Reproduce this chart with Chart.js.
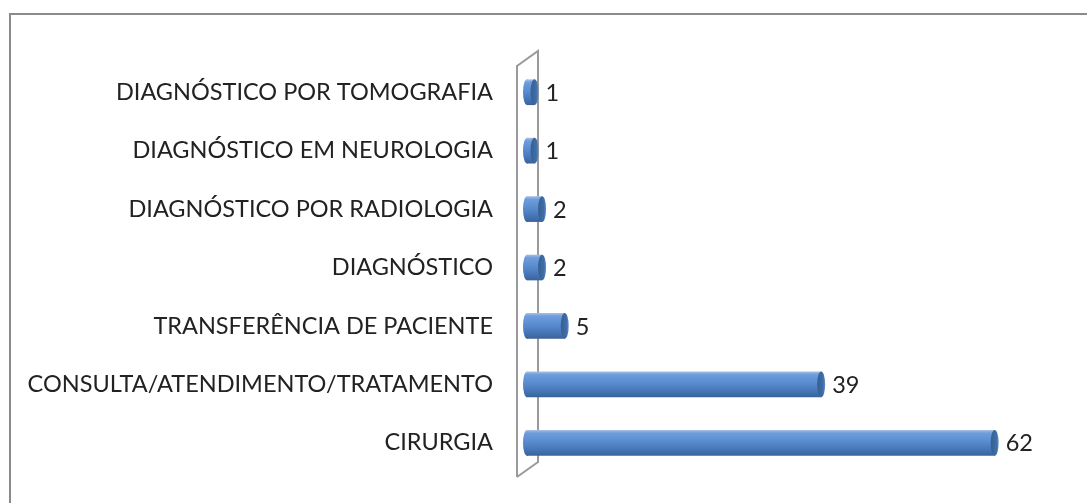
<!DOCTYPE html>
<html>
<head>
<meta charset="utf-8">
<script src="https://cdn.jsdelivr.net/npm/chart.js@4"></script>
<style>
  body { margin: 0; background: #fff; }
  #wrap { position: relative; width: 1087px; height: 503px; }
  #frame { position: absolute; left: 9px; top: 13px; right: -5px; bottom: -5px;
           border-top: 2px solid #8a8a8a; border-left: 2px solid #8a8a8a; }
  canvas { position: absolute; left: 0; top: 0; }
</style>
</head>
<body>
<div id="wrap">
  <div id="frame"></div>
  <canvas id="canvas1" width="1087" height="503"></canvas>
</div>
<script>
// categories top to bottom, as in the picture
const categories = [
  "DIAGNÓSTICO POR TOMOGRAFIA",
  "DIAGNÓSTICO EM NEUROLOGIA",
  "DIAGNÓSTICO POR RADIOLOGIA",
  "DIAGNÓSTICO",
  "TRANSFERÊNCIA DE PACIENTE",
  "CONSULTA/ATENDIMENTO/TRATAMENTO",
  "CIRURGIA"
];
const values = [1, 1, 2, 2, 5, 39, 62];
const axisMax = 70;

const FONT = "Lato, 'Open Sans', sans-serif";

function barGradient(ctx, bar) {
  const h = bar.height;
  const g = ctx.createLinearGradient(0, bar.y - h / 2, 0, bar.y + h / 2);
  g.addColorStop(0, "#a9c0e2");
  g.addColorStop(0.12, "#6e9ddd");
  g.addColorStop(0.5, "#5689cc");
  g.addColorStop(0.85, "#416fae");
  g.addColorStop(1, "#3a6298");
  return g;
}

// wall behind the bars, cylinder ends and value labels
const wallPlugin = {
  id: "wall",
  beforeDatasetsDraw(chart) {
    const ctx = chart.ctx;
    const area = chart.chartArea;
    const x0 = chart.scales.x.getPixelForValue(0);
    const fx = x0 - 10, bx = x0 + 11;
    ctx.save();
    ctx.strokeStyle = "#9a9a9a";
    ctx.lineWidth = 2;
    ctx.beginPath();
    ctx.moveTo(fx, area.bottom + 5);
    ctx.lineTo(fx, area.top + 3);
    ctx.lineTo(bx, area.top - 12);
    ctx.lineTo(bx, area.bottom - 10);
    ctx.lineTo(fx, area.bottom + 5);
    ctx.stroke();

    const meta = chart.getDatasetMeta(0);
    meta.data.forEach(bar => {
      const g = barGradient(ctx, bar);
      bar.options.backgroundColor = g;
      ctx.fillStyle = g;
      ctx.beginPath();
      ctx.ellipse(bar.base, bar.y, 4, bar.height / 2, 0, 0, Math.PI * 2);
      ctx.fill();
    });
    ctx.restore();
  },
  afterDatasetsDraw(chart) {
    const ctx = chart.ctx;
    const meta = chart.getDatasetMeta(0);
    meta.data.forEach((bar, i) => {
      const h = bar.height;
      const g = ctx.createLinearGradient(bar.x - 4, 0, bar.x + 4, 0);
      g.addColorStop(0, "#35608f");
      g.addColorStop(0.7, "#3f6da6");
      g.addColorStop(1, "#5d8cc8");
      ctx.save();
      ctx.fillStyle = g;
      ctx.beginPath();
      ctx.ellipse(bar.x, bar.y, 4, h / 2, 0, 0, Math.PI * 2);
      ctx.fill();
      ctx.fillStyle = "#222";
      ctx.font = "23.5px " + FONT;
      ctx.textAlign = "left";
      ctx.textBaseline = "middle";
      ctx.fillText(String(values[i]), bar.x + 11, bar.y + 1);
      ctx.restore();
    });
  }
};

window.onload = function () {
  let ctx1 = document.getElementById("canvas1").getContext("2d");
  new Chart(ctx1, {
    type: "bar",
    data: {
      labels: categories,
      datasets: [
        {
          data: values,
          // scriptable so each bar gets its own options object
          backgroundColor: (c) => "#5689cc",
          borderWidth: 0,
          barPercentage: 0.44,
          categoryPercentage: 1
        }
      ]
    },
    options: {
      indexAxis: "y",
      responsive: false,
      animation: false,
      layout: { padding: { left: 0, top: 63, right: 32, bottom: 31 } },
      plugins: {
        legend: { display: false },
        tooltip: { enabled: false }
      },
      scales: {
        x: { display: false, min: 0, max: axisMax },
        y: {
          grid: { display: false, drawTicks: true, tickLength: 20 },
          border: { display: false },
          ticks: {
            padding: 14,
            color: "#222",
            font: { family: FONT, size: 23.5 }
          },
          afterFit(scale) { scale.width = 527; }
        }
      }
    },
    plugins: [wallPlugin]
  });
};
</script>
</body>
</html>
